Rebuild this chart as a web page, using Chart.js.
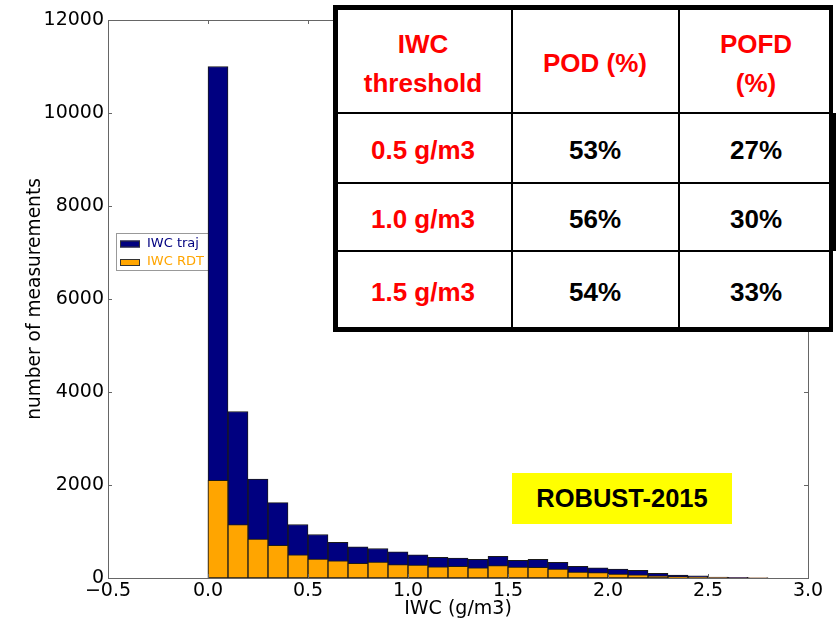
<!DOCTYPE html>
<html>
<head>
<meta charset="utf-8">
<script src="https://cdn.jsdelivr.net/npm/chart.js@4.4.1/dist/chart.umd.min.js"></script>
<style>
html,body{margin:0;padding:0;background:#fff;}
#wrap{position:relative;width:837px;height:621px;overflow:hidden;background:#fff;}
#c{position:absolute;left:0;top:0;}
.tb{position:absolute;background:#000;}
.tt{position:absolute;height:40px;line-height:40px;text-align:center;font-family:'Liberation Sans',Arial,sans-serif;font-weight:bold;font-size:26px;white-space:nowrap;}
#robust{position:absolute;left:512px;top:473px;width:220px;height:51px;background:#ffff00;font-family:'Liberation Sans',Arial,sans-serif;font-weight:bold;font-size:25.5px;line-height:51px;text-align:center;color:#000;}
</style>
</head>
<body>
<div id="wrap">
<canvas id="c" width="837" height="621"></canvas>
<div id="tablebox"></div>
<div id="robust">ROBUST-2015</div>
</div>
<script>
// ---------- data ----------
const binStarts = [0.0,0.1,0.2,0.3,0.4,0.5,0.6,0.7,0.8,0.9,1.0,1.1,1.2,1.3,1.4,1.5,1.6,1.7,1.8,1.9,2.0,2.1,2.2,2.3,2.4,2.5,2.6,2.7,2.8,2.9];
const binWidth = 0.1;
const trajCounts = [11000,3580,2130,1620,1150,935,765,670,635,565,500,445,430,400,465,380,400,335,250,220,190,165,100,65,45,20,15,5,0,0];
const rdtCounts  = [2100,1150,835,705,500,405,370,315,345,290,280,240,250,220,265,235,230,190,130,115,85,70,45,28,20,8,4,2,0,0];
const seriesNames = ['IWC traj','IWC RDT'];
const seriesColors = ['#000080','#FFA500'];
const xTicks = [-0.5,0.0,0.5,1.0,1.5,2.0,2.5,3.0];
const yTicks = [0,2000,4000,6000,8000,10000,12000];
const xTitle = 'IWC (g/m3)';
const yTitle = 'number of measurements';

const tableHeader = [['IWC','threshold'],['POD (%)'],['POFD','(%)']];
const thresholds = ['0.5 g/m3','1.0 g/m3','1.5 g/m3'];
const podValues = ['53%','56%','54%'];
const pofdValues = ['27%','30%','33%'];

// ---------- table overlay ----------
(function(){
  const box = document.getElementById('tablebox');
  function rect(l,t,w,h){const d=document.createElement('div');d.className='tb';d.style.left=l+'px';d.style.top=t+'px';d.style.width=w+'px';d.style.height=h+'px';box.appendChild(d);}
  function text(s,cx,cy,w,color){const d=document.createElement('div');d.className='tt';d.textContent=s;d.style.left=(cx-w/2)+'px';d.style.width=w+'px';d.style.top=(cy-20)+'px';d.style.color=color;box.appendChild(d);}
  const bg=document.createElement('div');bg.style.cssText='position:absolute;left:333px;top:5px;width:500px;height:327px;background:#fff;';box.appendChild(bg);
  rect(333,5,500,5); rect(333,327,500,5); rect(333,5,5,327); rect(829,5,4,327);
  rect(829,113,7,138);
  rect(511,5,2,327); rect(678,5,2,327);
  rect(333,112,500,2); rect(333,182,500,2); rect(333,250,500,2);
  const colC=[423,595,756];
  text(tableHeader[0][0],colC[0],43.5,170,'#ff0000');
  text(tableHeader[0][1],colC[0],82.5,170,'#ff0000');
  text(tableHeader[1][0],colC[1],63,160,'#ff0000');
  text(tableHeader[2][0],colC[2],43.5,150,'#ff0000');
  text(tableHeader[2][1],colC[2],82.5,150,'#ff0000');
  const rowC=[150,219,292];
  for(let i=0;i<3;i++){
    text(thresholds[i],colC[0],rowC[i],170,'#ff0000');
    text(podValues[i],colC[1],rowC[i],160,'#000');
    text(pofdValues[i],colC[2],rowC[i],150,'#000');
  }
})();

// ---------- chart ----------
const frameColor = '#666';
const framePlugin = {
  id:'frame',
  afterDatasetsDraw(chart){
    const {ctx, chartArea:a, scales} = chart;
    ctx.save();
    ctx.strokeStyle = frameColor; ctx.lineWidth = 1;
    const tl = 4;
    ctx.beginPath();
    scales.x.ticks.forEach(t=>{
      const px = Math.round(scales.x.getPixelForValue(t.value))+0.5;
      ctx.moveTo(px,a.bottom); ctx.lineTo(px,a.bottom-tl);
      ctx.moveTo(px,a.top); ctx.lineTo(px,a.top+tl);
    });
    scales.y.ticks.forEach(t=>{
      const py = Math.round(scales.y.getPixelForValue(t.value))+0.5;
      ctx.moveTo(a.left,py); ctx.lineTo(a.left+tl,py);
      ctx.moveTo(a.right,py); ctx.lineTo(a.right-tl,py);
    });
    ctx.stroke();
    ctx.strokeRect(Math.round(a.left)+0.5, Math.round(a.top)+0.5, Math.round(a.right-a.left), Math.round(a.bottom-a.top));
    ctx.restore();
  }
};
const legendPlugin = {
  id:'innerLegend',
  beforeDatasetsDraw(chart){
    const ctx = chart.ctx;
    ctx.save();
    ctx.fillStyle='#fff'; ctx.strokeStyle='#999'; ctx.lineWidth=1;
    ctx.fillRect(116.5,233.5,100,37); ctx.strokeRect(116.5,233.5,100,37);
    const ys=[243.5,262];
    ctx.font='13px "DejaVu Sans"'; ctx.textBaseline='middle'; ctx.textAlign='left';
    for(let i=0;i<2;i++){
      ctx.fillStyle=seriesColors[i];
      ctx.fillRect(120,ys[i]-3,20,7);
      ctx.strokeStyle='#333'; ctx.strokeRect(120.5,ys[i]-2.5,19,6);
      ctx.fillStyle=seriesColors[i];
      ctx.fillText(seriesNames[i],147,ys[i]);
    }
    ctx.restore();
  }
};

const tickFont = {family:'DejaVu Sans', size:19};
new Chart(document.getElementById('c'), {
  type:'bar',
  data:{
    datasets:[
      {label:seriesNames[0], data:binStarts.map((b,i)=>({x:b+binWidth/2,y:trajCounts[i]})),
       backgroundColor:seriesColors[0], borderColor:'#1a1a1a', borderWidth:1, borderSkipped:false,
       grouped:false, order:2, barPercentage:1, categoryPercentage:1},
      {label:seriesNames[1], data:binStarts.map((b,i)=>({x:b+binWidth/2,y:rdtCounts[i]})),
       backgroundColor:seriesColors[1], borderColor:'#1a1a1a', borderWidth:1, borderSkipped:false,
       grouped:false, order:1, barPercentage:1, categoryPercentage:1}
    ]
  },
  options:{
    responsive:false, animation:false, devicePixelRatio:1,
    layout:{padding:{left:0,top:20,right:29,bottom:0}},
    plugins:{legend:{display:false}, tooltip:{enabled:false}},
    scales:{
      x:{type:'linear', min:-0.5, max:3.0, offset:false,
         grid:{display:false, drawTicks:false}, border:{display:false},
         afterBuildTicks:s=>{s.ticks = xTicks.map(v=>({value:v}));},
         ticks:{font:tickFont, color:'#000', padding:2, maxRotation:0, autoSkip:false,
                callback:v=>Number(v).toFixed(1).replace('-','\u2212')},
         title:{display:true, text:xTitle, font:tickFont, color:'#000', padding:{top:0,bottom:1}},
         afterFit:s=>{s.height=43;}},
      y:{min:0, max:12000,
         grid:{display:false, drawTicks:false}, border:{display:false},
         afterBuildTicks:s=>{s.ticks = yTicks.map(v=>({value:v}));},
         ticks:{font:tickFont, color:'#000', padding:4, autoSkip:false, callback:v=>String(v)},
         title:{display:true, text:yTitle, font:{family:'DejaVu Sans', size:18.6}, color:'#000', padding:{top:24,bottom:0}},
         afterFit:s=>{s.width=108;}}
    }
  },
  plugins:[legendPlugin, framePlugin]
});
</script>
</body>
</html>
